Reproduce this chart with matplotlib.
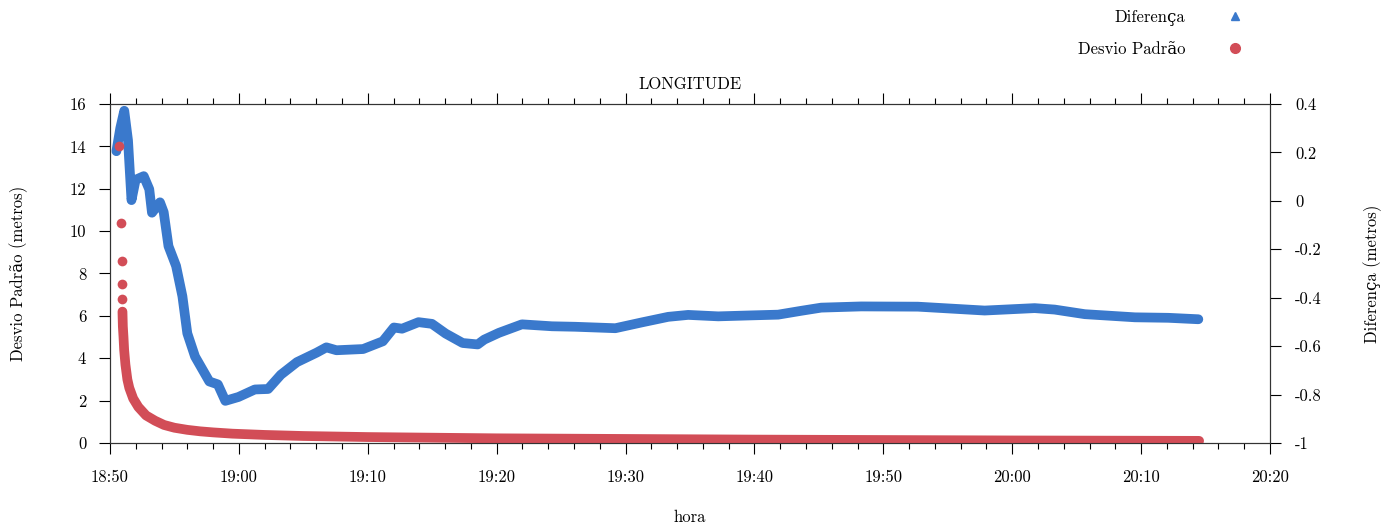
import matplotlib
matplotlib.use("Agg")
import matplotlib.pyplot as plt
from matplotlib import rcParams
from matplotlib.lines import Line2D
from matplotlib.ticker import MultipleLocator, FormatStrFormatter
import warnings
warnings.filterwarnings("ignore")

rcParams["font.family"] = ["cmr10", "DejaVu Serif"]
rcParams["axes.unicode_minus"] = False
rcParams["font.size"] = 12

# eixo x: minutos depois das 18:50
hora_ticks = [0, 10, 20, 30, 40, 50, 60, 70, 80, 90]
hora_labels = ["18:50", "19:00", "19:10", "19:20", "19:30",
               "19:40", "19:50", "20:00", "20:10", "20:20"]

# Diferenca (metros), eixo da direita
dif_t = [0.50, 0.80, 1.11, 1.40, 1.67, 1.99, 2.62, 3.05, 3.26, 3.88, 4.17,
         4.54, 5.13, 5.62, 6.00, 6.60, 7.71, 8.37, 8.95, 9.97, 11.24, 12.27,
         13.26, 14.51, 16.03, 16.79, 17.57, 19.64, 21.17, 22.03, 22.66, 23.94,
         24.98, 26.04, 27.36, 28.53, 29.04, 30.18, 31.96, 34.29, 36.10, 39.21,
         41.26, 43.31, 44.86, 47.19, 49.78, 51.84, 53.64, 55.18, 58.28, 62.68,
         65.27, 67.86, 71.74, 73.29, 75.63, 79.52, 82.11, 84.44]
dif_v = [0.205, 0.300, 0.372, 0.250, 0.003, 0.087, 0.102, 0.048, -0.049,
         -0.006, -0.047, -0.187, -0.269, -0.394, -0.547, -0.643, -0.746,
         -0.758, -0.826, -0.810, -0.779, -0.777, -0.718, -0.666, -0.627,
         -0.605, -0.617, -0.612, -0.580, -0.523, -0.528, -0.501, -0.508,
         -0.548, -0.587, -0.593, -0.573, -0.545, -0.510, -0.518, -0.520,
         -0.526, -0.502, -0.479, -0.471, -0.477, -0.473, -0.470, -0.454,
         -0.441, -0.436, -0.437, -0.445, -0.453, -0.443, -0.449, -0.468,
         -0.481, -0.483, -0.489]

# Desvio Padrao (metros), eixo da esquerda
dp_isol_t = [0.70, 0.83, 0.90, 0.92, 0.95]
dp_isol_v = [14.0, 10.4, 8.6, 7.5, 6.8]
dp_t = [0.97, 1.00, 1.05, 1.10, 1.20, 1.35, 1.50, 1.80, 2.20, 2.80, 3.50,
        4.20, 5.00, 6.00, 7.00, 8.00, 9.50, 12.0, 15.0, 20.0, 30.0, 40.0,
        50.0, 60.0, 70.0, 84.5]
dp_v = [6.2, 5.5, 5.0, 4.4, 3.7, 3.0, 2.6, 2.1, 1.7, 1.3, 1.05, 0.85, 0.72,
        0.62, 0.55, 0.50, 0.44, 0.38, 0.33, 0.28, 0.22, 0.19, 0.16, 0.14,
        0.12, 0.10]

azul = "#3a79cc"
vermelho = "#d24d57"

fig = plt.figure(figsize=(13.99, 5.29), dpi=100)
ax = fig.add_axes([0.0786, 0.1626, 0.8292, 0.6408])
ax2 = ax.twinx()
ax.set_zorder(ax2.get_zorder() + 1)
ax.patch.set_visible(False)

ax2.plot(dif_t, dif_v, color=azul, lw=7, solid_capstyle="round",
         solid_joinstyle="round")
ax.plot(dp_isol_t, dp_isol_v, "o", color=vermelho, ms=7, mec="none")
ax.plot(dp_t, dp_v, color=vermelho, lw=7, solid_capstyle="round",
        solid_joinstyle="round")

ax.set_xlim(0, 90)
ax.set_ylim(0, 16)
ax2.set_ylim(-1, 0.4)

ax.set_xticks(hora_ticks)
ax.set_xticklabels(hora_labels)
ax.xaxis.set_minor_locator(MultipleLocator(2))
ax.set_yticks(range(0, 17, 2))
ax2.set_yticks([-1, -0.8, -0.6, -0.4, -0.2, 0, 0.2, 0.4])
ax2.yaxis.set_major_formatter(FormatStrFormatter("%g"))

ax.tick_params(axis="x", which="major", direction="out", length=8,
               width=0.8, pad=11, top=True)
ax.tick_params(axis="x", which="minor", direction="out", length=4,
               width=0.8, top=True)
ax.tick_params(axis="y", direction="out", length=8, width=0.8, pad=9)
ax2.tick_params(axis="y", direction="out", length=8, width=0.8, pad=10)

for a in (ax, ax2):
    for s in a.spines.values():
        s.set_linewidth(0.8)
        s.set_color("#333333")

ax.set_title("LONGITUDE", pad=11, fontsize=12)
ax.set_xlabel("hora", labelpad=18)
ax.set_ylabel("Desvio Padrão (metros)", labelpad=30)
ax2.set_ylabel("Diferença (metros)", labelpad=30)

handles = [Line2D([], [], ls="none", marker="^", color=azul, ms=6),
           Line2D([], [], ls="none", marker="o", color=vermelho, ms=7)]
fig.legend(handles, ["Diferença", "Desvio Padrão"], loc="upper right",
           bbox_to_anchor=(1252 / 1399, 1 - 10 / 529), frameon=False,
           markerfirst=False, handletextpad=2.0, labelspacing=0.9,
           borderpad=0, borderaxespad=0, fontsize=12)

fig.savefig("out.png", dpi=100)
